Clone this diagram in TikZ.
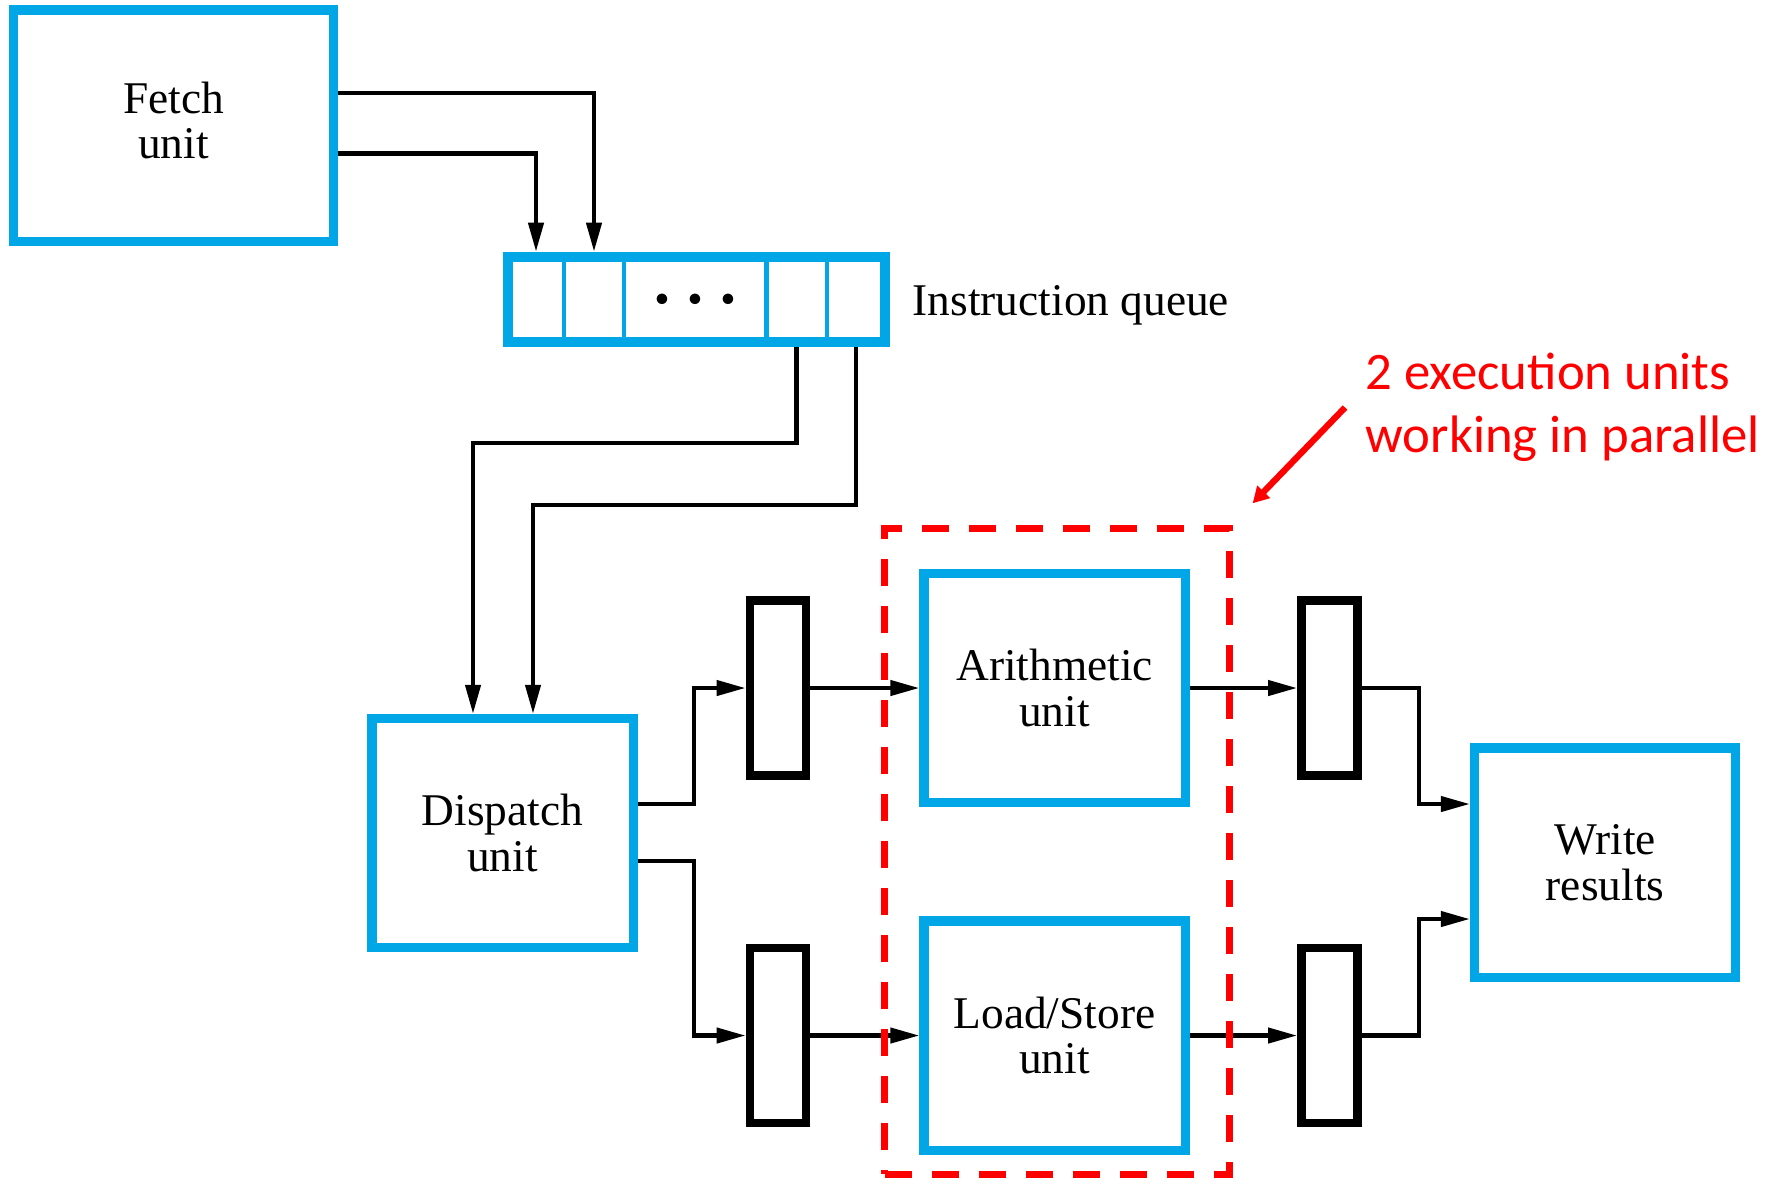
\documentclass[tikz,border=0pt]{standalone}
\usepackage{fontspec}
\setmainfont{Liberation Serif}
\newfontfamily\notefont{Carlito}
\usetikzlibrary{positioning,arrows.meta,calc}
\definecolor{cpuBlue}{RGB}{0,166,230}
\definecolor{cpuRed}{RGB}{255,0,0}

\begin{document}
\begin{tikzpicture}[
    x=0.01cm, y=-0.01cm,
    unit/.style={rectangle, draw=cpuBlue, line width=2.6pt, fill=white, minimum width=2.61cm, minimum height=2.29cm, align=center, inner sep=0pt, font=\fontsize{12.9}{13}\selectfont},
    latch/.style={rectangle, draw=black, line width=2.5pt, fill=white, minimum width=0.56cm, minimum height=1.75cm, inner sep=0pt},
    cell/.style={rectangle, draw=cpuBlue, line width=1.4pt, minimum height=0.85cm, inner sep=0pt},
    queue/.style={rectangle, draw=cpuBlue, line width=3pt, minimum width=3.77cm, minimum height=0.85cm, inner sep=0pt},
    link/.style={line width=1.2pt, -{Triangle[length=2.9mm,width=1.5mm]}},
    group/.style={rectangle, draw=cpuRed, line width=2pt, dash pattern=on 0.27cm off 0.2cm, minimum width=3.44cm, minimum height=6.45cm},
    note/.style={text=cpuRed, font=\notefont\fontsize{15}{17.8}\selectfont, align=left, inner sep=0pt},
    note arrow/.style={draw=cpuRed, line width=1.8pt, -{Triangle[length=1.6mm,width=1.7mm]}}
]
  \useasboundingbox (0,0) rectangle (1783,1184);

  % functional units
  \node[unit, minimum width=3.19cm, minimum height=2.31cm] (fetch) at (173.5,125.5) {Fetch\\unit\rule[-0.5ex]{0pt}{0pt}};
  \node[unit] (dispatch) at (502.5,833) {Dispatch\\unit};
  \node[unit] (arith) at (1054.5,688) {Arithmetic\\unit};
  \node[unit] (ls) at (1054.5,1035.5) {Load/Store\\unit};
  \node[unit] (write) at (1605,862.5) {Write\\results};

  % instruction queue
  \node[cell, minimum width=0.56cm] (c1) at (536,299.5) {};
  \node[cell, minimum width=0.60cm] (c2) at (594,299.5) {};
  \node[cell, minimum width=1.42cm, font=\fontsize{7}{7}\selectfont] (c3) at (695,299.5) {$\bullet$\hspace{5.3pt}$\bullet$\hspace{5.3pt}$\bullet$};
  \node[cell, minimum width=0.61cm] (c4) at (796.5,299.5) {};
  \node[cell, minimum width=0.58cm] (c5) at (856,299.5) {};
  \node[queue] (queue) at (696.5,299.5) {};
  \node[right=0.1cm of queue, yshift=-0.06cm, font=\fontsize{12.9}{13}\selectfont] (qlabel) {Instruction queue};

  % pipeline registers
  \node[latch] (r1) at (778,688) {};
  \node[latch] (r2) at (778,1035.5) {};
  \node[latch] (r3) at (1329.5,688) {};
  \node[latch] (r4) at (1329.5,1035.5) {};

  % connectors
  \draw[link] ($(fetch.east)+(0,-32.5)$) -| (c2 |- queue.north);
  \draw[link] ($(fetch.east)+(0,28)$) -| (c1 |- queue.north);
  \draw[link] (c4 |- queue.south) -- ++(0,96) -| ($(dispatch.north)+(-29.5,0)$);
  \draw[link] (c5 |- queue.south) -- ++(0,158) -| ($(dispatch.north)+(30.5,0)$);
  \draw[link] ($(dispatch.east)+(0,-29)$) -- ++(56,0) |- (r1.west);
  \draw[link] ($(dispatch.east)+(0,28)$) -- ++(56,0) |- (r2.west);
  \draw[link] (r1.east) -- (arith.west);
  \draw[link] (r2.east) -- (ls.west);
  \draw[link] (arith.east) -- (r3.west);
  \draw[link] (ls.east) -- (r4.west);
  \draw[link] (r3.east) -- ++(57,0) |- ($(write.west)+(0,-58.5)$);
  \draw[link] (r4.east) -- ++(57,0) |- ($(write.west)+(0,56.5)$);

  % parallel execution units
  \node[group] (par) at (1057,851.5) {};
  \node[note, anchor=west] (note) at (1365,407.5) {2 execution units\\working in parallel};
  \draw[note arrow] ($(note.west)+(-20,0)$) -- ($(par.north east)+(20,-22)$);
\end{tikzpicture}
\end{document}
